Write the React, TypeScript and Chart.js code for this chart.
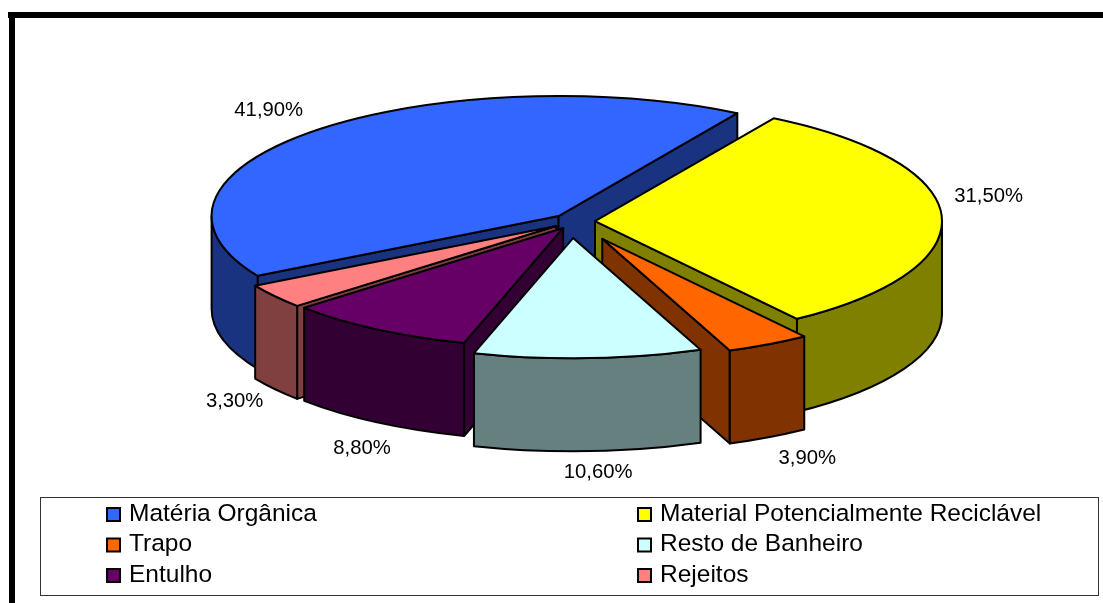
import React, { useEffect, useRef } from "react";
import { Chart, registerables } from "chart.js";

Chart.register(...registerables);

const CATEGORIES = [
  "Matéria Orgânica",
  "Material Potencialmente Reciclável",
  "Trapo",
  "Resto de Banheiro",
  "Entulho",
  "Rejeitos",
];
const VALUES = [41.9, 31.5, 3.9, 10.6, 8.8, 3.3];
const TOP_COLORS = ["#3366FF", "#FFFF00", "#FF6600", "#CCFFFF", "#660066", "#FF8080"];
const WALL_COLORS = ["#1A3380", "#808000", "#803300", "#668080", "#330033", "#804040"];
const EXPLODE = [22, 22, 57, 48, 22, 22];
const SIDE_SHIFT = [0, -1, 1, -3, 1, 0];
const LABEL_NUDGE = [
  [-47, -20],
  [47, -20],
  [39, 114],
  [10, 114],
  [-15, 119],
  [-40, 105],
];

const W = 1103;
const H = 603;
const TILT = 0.346;
const DEPTH = 93;
const FONT = '"Liberation Sans", Arial, sans-serif';

const geom = (chart: any, i: number) => {
  const arc: any = chart.getDatasetMeta(0).data[i];
  const mid = (arc.startAngle + arc.endAngle) / 2;
  const d = EXPLODE[i];
  return {
    arc,
    cx: arc.x + Math.cos(mid) * d + SIDE_SHIFT[i],
    cy: arc.y + Math.sin(mid) * d * TILT,
    r: arc.outerRadius,
    a: arc.startAngle,
    b: arc.endAngle,
    mid,
  };
};

const pie3d = {
  id: "pie3d",
  beforeDraw(chart: any) {
    const c = chart.ctx;
    c.save();
    c.fillStyle = "#FFFFFF";
    c.fillRect(0, 0, W, H);
    c.fillStyle = "#000000";
    c.fillRect(8, 12, W - 8, 6);
    c.fillRect(9, 18, 6, H - 18);
    c.restore();
  },
  // Slices are painted back to front: visible side walls first, then the
  // library's own arc element under a tilt transform, then its outline.
  beforeDatasetsDraw(chart: any) {
    const c = chart.ctx;
    const order = VALUES.map((_, i) => i).sort(
      (p, q) => Math.sin(geom(chart, p).mid) - Math.sin(geom(chart, q).mid)
    );
    for (const i of order) {
      const g = geom(chart, i);
      c.save();
      c.strokeStyle = "#000000";
      c.lineWidth = 2;
      c.lineJoin = "round";
      c.fillStyle = WALL_COLORS[i];
      const paint = () => {
        c.closePath();
        c.fill();
        c.stroke();
      };
      const radial = (t: number, normal: number) => {
        if (Math.sin(normal) <= 0) return;
        const ex = g.cx + g.r * Math.cos(t);
        const ey = g.cy + g.r * TILT * Math.sin(t);
        c.beginPath();
        c.moveTo(g.cx, g.cy);
        c.lineTo(ex, ey);
        c.lineTo(ex, ey + DEPTH);
        c.lineTo(g.cx, g.cy + DEPTH);
        paint();
      };
      radial(g.a, g.a - Math.PI / 2);
      radial(g.b, g.b + Math.PI / 2);
      for (let n = -1; n <= 1; n++) {
        const lo = Math.max(g.a, n * 2 * Math.PI);
        const hi = Math.min(g.b, n * 2 * Math.PI + Math.PI);
        if (hi <= lo) continue;
        c.beginPath();
        c.ellipse(g.cx, g.cy, g.r, g.r * TILT, 0, lo, hi);
        c.ellipse(g.cx, g.cy + DEPTH, g.r, g.r * TILT, 0, hi, lo, true);
        paint();
      }
      c.save();
      c.translate(g.cx, g.cy);
      c.scale(1, TILT);
      c.translate(-g.arc.x, -g.arc.y);
      g.arc.draw(c);
      c.restore();
      c.beginPath();
      c.moveTo(g.cx, g.cy);
      c.ellipse(g.cx, g.cy, g.r, g.r * TILT, 0, g.a, g.b);
      c.closePath();
      c.stroke();
      c.restore();
    }
    return false;
  },
  afterDraw(chart: any) {
    const c = chart.ctx;
    c.save();
    c.fillStyle = "#000000";
    c.textAlign = "center";
    c.textBaseline = "middle";
    c.font = `20.3px ${FONT}`;
    VALUES.forEach((v, i) => {
      const g = geom(chart, i);
      const x = g.cx + g.r * Math.cos(g.mid) + LABEL_NUDGE[i][0];
      const y = g.cy + g.r * TILT * Math.sin(g.mid) + LABEL_NUDGE[i][1];
      c.fillText(`${v.toFixed(2).replace(".", ",")}%`, x, y);
    });
    // legend
    c.fillStyle = "#FFFFFF";
    c.strokeStyle = "#333333";
    c.lineWidth = 1;
    c.fillRect(40.5, 497.5, 1058, 98);
    c.strokeRect(40.5, 497.5, 1058, 98);
    c.textAlign = "left";
    c.font = `24.5px ${FONT}`;
    CATEGORIES.forEach((name, i) => {
      const col = i % 2;
      const row = Math.floor(i / 2);
      const x = col === 0 ? 107 : 638;
      const y = 514 + row * 30.5;
      c.fillStyle = TOP_COLORS[i];
      c.strokeStyle = "#000000";
      c.lineWidth = 2;
      c.fillRect(x, y - 6, 13, 13);
      c.strokeRect(x, y - 6, 13, 13);
      c.fillStyle = "#000000";
      c.fillText(name, x + 22, y);
    });
    c.restore();
  },
};

export default function App() {
  const ref = useRef<HTMLCanvasElement>(null);
  useEffect(() => {
    document.body.style.margin = "0";
    document.body.style.overflow = "hidden";
    const chart = new Chart(ref.current!, {
      type: "pie",
      plugins: [pie3d],
      data: {
        labels: CATEGORIES,
        datasets: [
          {
            data: VALUES,
            backgroundColor: TOP_COLORS,
            borderWidth: 0,
          } as any,
        ],
      },
      options: {
        responsive: false,
        animation: false,
        rotation: -119.84,
        radius: 347,
        layout: { padding: { left: 45, bottom: 160 } },
        events: [],
        plugins: { legend: { display: false }, tooltip: { enabled: false } },
      },
    });
    return () => chart.destroy();
  }, []);
  return <canvas ref={ref} width={W} height={H} style={{ display: "block" }} />;
}
